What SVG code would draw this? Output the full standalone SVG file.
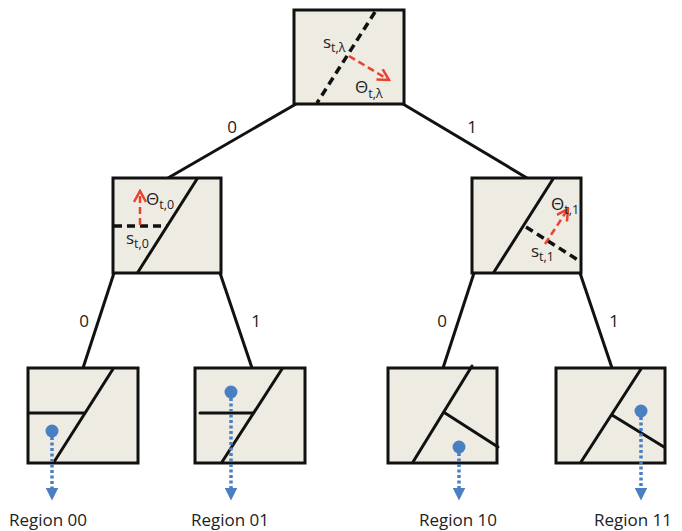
<svg xmlns="http://www.w3.org/2000/svg" width="682" height="531" viewBox="0 0 682 531">
<defs>
<style>
.box{fill:#eeebe2;stroke:#111;stroke-width:3}
.cut{fill:none;stroke:#111;stroke-width:3;stroke-linecap:round}
.dash{fill:none;stroke:#111;stroke-width:3.5;stroke-dasharray:8 5}
.red{fill:none;stroke:#e8432f;stroke-width:2.5;stroke-dasharray:7 4;marker-end:url(#chev)}
.blue{fill:none;stroke:#4a7fc1;stroke-width:3.5;stroke-dasharray:3 2.5;marker-end:url(#tri)}
.dot{fill:#4a7fc1}
.edge{fill:none;stroke:#111;stroke-width:3}
text{font-family:"Open Sans","Liberation Sans",sans-serif;fill:#222}
.lbl{font-size:17px;text-anchor:middle}
.sym{font-size:17px}
.sub{font-size:12.5px}
.reg{font-size:17px;text-anchor:middle}
</style>
<marker id="chev" viewBox="0 0 14 14" refX="12" refY="7" markerWidth="14" markerHeight="14" markerUnits="userSpaceOnUse" orient="auto">
<path d="M1,1 L12,7 L1,13" fill="none" stroke="#e8432f" stroke-width="2.5"/>
</marker>
<marker id="tri" viewBox="0 0 12 12" refX="6" refY="6" markerWidth="13" markerHeight="13" markerUnits="userSpaceOnUse" orient="auto">
<path d="M0,0 L12,6 L0,12 Z" fill="#4a7fc1"/>
</marker>
</defs>

<g id="connectors">
<line class="edge" x1="296" y1="104" x2="168" y2="178"/>
<line class="edge" x1="403" y1="104" x2="527" y2="178"/>
<line class="edge" x1="114" y1="273" x2="83" y2="368"/>
<line class="edge" x1="220" y1="273" x2="252" y2="368"/>
<line class="edge" x1="474" y1="273" x2="443" y2="368"/>
<line class="edge" x1="580" y1="273" x2="612" y2="368"/>
<text class="lbl" x="232" y="133">0</text>
<text class="lbl" x="472" y="133">1</text>
<text class="lbl" x="84" y="327">0</text>
<text class="lbl" x="256" y="327">1</text>
<text class="lbl" x="442" y="327">0</text>
<text class="lbl" x="614" y="327">1</text>
</g>

<g id="root">
<rect class="box" x="294" y="10" width="110" height="94"/>
<line class="dash" x1="375" y1="12" x2="317" y2="103"/>
<line class="red" x1="349" y1="56" x2="389" y2="80"/>
<text x="323" y="48"><tspan class="sym">s</tspan><tspan class="sub" dy="4">t,λ</tspan></text>
<text x="355" y="93"><tspan class="sym">Θ</tspan><tspan class="sub" dy="5">t,λ</tspan></text>
</g>

<g id="node0">
<rect class="box" x="113" y="178" width="108" height="95"/>
<line class="cut" x1="197" y1="179" x2="138" y2="272"/>
<line class="dash" x1="114" y1="226" x2="167" y2="226"/>
<line class="red" x1="140" y1="225" x2="140" y2="191"/>
<text x="146" y="205"><tspan class="sym">Θ</tspan><tspan class="sub" dy="4">t,0</tspan></text>
<text x="126" y="244"><tspan class="sym">s</tspan><tspan class="sub" dy="4">t,0</tspan></text>
</g>

<g id="node1">
<rect class="box" x="472" y="178" width="109" height="95"/>
<line class="cut" x1="553" y1="179" x2="494" y2="272"/>
<line class="dash" x1="526" y1="227" x2="578" y2="260"/>
<line class="red" x1="545" y1="244" x2="568" y2="209"/>
<text x="551" y="210"><tspan class="sym">Θ</tspan><tspan class="sub" dy="4">t,1</tspan></text>
<text x="531" y="257"><tspan class="sym">s</tspan><tspan class="sub" dy="4">t,1</tspan></text>
</g>

<g id="leaf00">
<rect class="box" x="28" y="368" width="110" height="95"/>
<line class="cut" x1="113" y1="369" x2="54" y2="462"/>
<line class="cut" x1="29" y1="413" x2="84" y2="413"/>
<circle class="dot" cx="52" cy="431" r="6.5"/>
<line class="blue" x1="52" y1="437" x2="52" y2="494"/>
<text class="reg" x="48" y="526">Region 00</text>
</g>

<g id="leaf01">
<rect class="box" x="195" y="368" width="110" height="95"/>
<line class="cut" x1="282" y1="369" x2="222" y2="462"/>
<line class="cut" x1="200" y1="413" x2="253" y2="413"/>
<circle class="dot" cx="231" cy="392" r="6.5"/>
<line class="blue" x1="231" y1="398" x2="231" y2="494"/>
<text class="reg" x="230" y="526">Region 01</text>
</g>

<g id="leaf10">
<rect class="box" x="388" y="368" width="109" height="95"/>
<line class="cut" x1="472" y1="366" x2="413" y2="462"/>
<line class="cut" x1="445" y1="413" x2="498" y2="447"/>
<circle class="dot" cx="459" cy="447" r="6.5"/>
<line class="blue" x1="459" y1="453" x2="459" y2="494"/>
<text class="reg" x="458" y="526">Region 10</text>
</g>

<g id="leaf11">
<rect class="box" x="556" y="368" width="109" height="95"/>
<line class="cut" x1="641" y1="369" x2="581" y2="462"/>
<line class="cut" x1="612" y1="415" x2="664" y2="447"/>
<circle class="dot" cx="641" cy="411" r="6.5"/>
<line class="blue" x1="641" y1="417" x2="641" y2="494"/>
<text class="reg" x="633" y="526">Region 11</text>
</g>
</svg>
